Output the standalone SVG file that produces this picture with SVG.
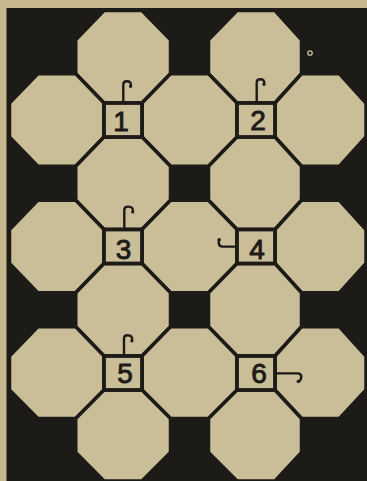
<svg xmlns="http://www.w3.org/2000/svg" width="367" height="481" viewBox="0 0 367 481">
<style>
.paper{fill:#c6b990}
.board{fill:#1d1b17}
.oct{fill:#cabe98;stroke:#1d1b17;stroke-width:3.5;stroke-linejoin:miter}
.sq{fill:#cabe98;stroke:#1d1b17;stroke-width:3.8}
.num{font-family:"Liberation Sans",Arial,sans-serif;font-size:28px;fill:#1d1b17;stroke:#1d1b17;stroke-width:0.9;text-anchor:middle}
.flag{fill:none;stroke:#1d1b17;stroke-width:2.4;stroke-linecap:round;stroke-linejoin:round}
.blob{fill:#1d1b17}
</style>
<rect class="paper" x="0" y="0" width="367" height="481"/>
<rect class="board" x="6.5" y="8" width="361" height="473"/>
<circle cx="310" cy="53" r="2.2" fill="none" stroke="#cabe98" stroke-width="1.3"/>
<g id="tiles">
<polygon class="oct" points="104,10.5 142,10.5 170.5,39.75 170.5,73.75 142,103 104,103 75.75,73.75 75.75,39.75"/>
<polygon class="oct" points="237,10.5 275,10.5 301.5,39.75 301.5,73.75 275,103 237,103 208.5,73.75 208.5,39.75"/>
<polygon class="oct" points="37.75,73.75 75.75,73.75 104,103 104,137 75.75,166.25 37.75,166.25 9.5,137 9.5,103"/>
<polygon class="oct" points="170.5,73.75 208.5,73.75 237,103 237,137 208.5,166.25 170.5,166.25 142,137 142,103"/>
<polygon class="oct" points="301.5,73.75 339.5,73.75 366,103 366,137 339.5,166.25 301.5,166.25 275,137 275,103"/>
<polygon class="oct" points="104,137 142,137 170.5,166.25 170.5,200.25 142,229.5 104,229.5 75.75,200.25 75.75,166.25"/>
<polygon class="oct" points="237,137 275,137 301.5,166.25 301.5,200.25 275,229.5 237,229.5 208.5,200.25 208.5,166.25"/>
<polygon class="oct" points="37.75,200.25 75.75,200.25 104,229.5 104,263.5 75.75,292.75 37.75,292.75 9.5,263.5 9.5,229.5"/>
<polygon class="oct" points="170.5,200.25 208.5,200.25 237,229.5 237,263.5 208.5,292.75 170.5,292.75 142,263.5 142,229.5"/>
<polygon class="oct" points="301.5,200.25 339.5,200.25 366,229.5 366,263.5 339.5,292.75 301.5,292.75 275,263.5 275,229.5"/>
<polygon class="oct" points="104,263.5 142,263.5 170.5,292.75 170.5,326.75 142,356 104,356 75.75,326.75 75.75,292.75"/>
<polygon class="oct" points="237,263.5 275,263.5 301.5,292.75 301.5,326.75 275,356 237,356 208.5,326.75 208.5,292.75"/>
<polygon class="oct" points="37.75,326.75 75.75,326.75 104,356 104,390 75.75,418.5 37.75,418.5 9.5,390 9.5,356"/>
<polygon class="oct" points="170.5,326.75 208.5,326.75 237,356 237,390 208.5,418.5 170.5,418.5 142,390 142,356"/>
<polygon class="oct" points="301.5,326.75 339.5,326.75 366,356 366,390 339.5,418.5 301.5,418.5 275,390 275,356"/>
<polygon class="oct" points="104,390 142,390 170.5,418.5 170.5,452.5 142,481 104,481 75.75,452.5 75.75,418.5"/>
<polygon class="oct" points="237,390 275,390 301.5,418.5 301.5,452.5 275,481 237,481 208.5,452.5 208.5,418.5"/>
</g>
<g id="sq1">
<rect class="sq" x="104" y="103" width="38" height="34"/>
<text class="num" x="121" y="130.5">1</text>
<path class="flag" d="M123.3,102 V84.5 Q123.3,81.3 127,81.3 Q131.3,81.3 130.8,85.5"/>
<circle class="blob" cx="130.6" cy="86.3" r="1.6"/>
</g>
<g id="sq2">
<rect class="sq" x="237" y="103" width="38" height="34"/>
<text class="num" x="258" y="129.5">2</text>
<path class="flag" d="M256.7,102 V82.5 Q256.7,79.3 260.4,79.3 Q264.7,79.3 264.2,83.5"/>
<circle class="blob" cx="264" cy="84.3" r="1.6"/>
</g>
<g id="sq3">
<rect class="sq" x="104" y="229.5" width="38" height="34"/>
<text class="num" x="123.5" y="259">3</text>
<path class="flag" d="M124.3,228.5 V209.8 Q124.3,206.6 128.2,206.6 Q133.4,206.6 132.9,211.3"/>
<circle class="blob" cx="132.7" cy="212" r="1.6"/>
</g>
<g id="sq4">
<rect class="sq" x="237" y="229.5" width="38" height="34"/>
<text class="num" x="257" y="259">4</text>
<path class="flag" d="M236,246.6 H222.5 Q218.8,246.6 218.8,243 V240.5"/>
<circle class="blob" cx="219.2" cy="239.8" r="1.7"/>
</g>
<g id="sq5">
<rect class="sq" x="104" y="356" width="38" height="34"/>
<text class="num" x="125" y="383">5</text>
<path class="flag" d="M124,355 V338.3 Q124,335.2 127.6,335.2 Q132.6,335.2 132.1,340"/>
<circle class="blob" cx="131.9" cy="340.8" r="1.6"/>
</g>
<g id="sq6">
<rect class="sq" x="237" y="356" width="38" height="34"/>
<text class="num" x="259" y="383">6</text>
<path class="flag" d="M276,373.4 H297.5 Q301.3,373.4 301.3,376.8 Q301.3,379.8 298.6,381.6"/>
<circle class="blob" cx="298.3" cy="381.4" r="1.7"/>
</g>
<g id="connectors"></g>
</svg>
